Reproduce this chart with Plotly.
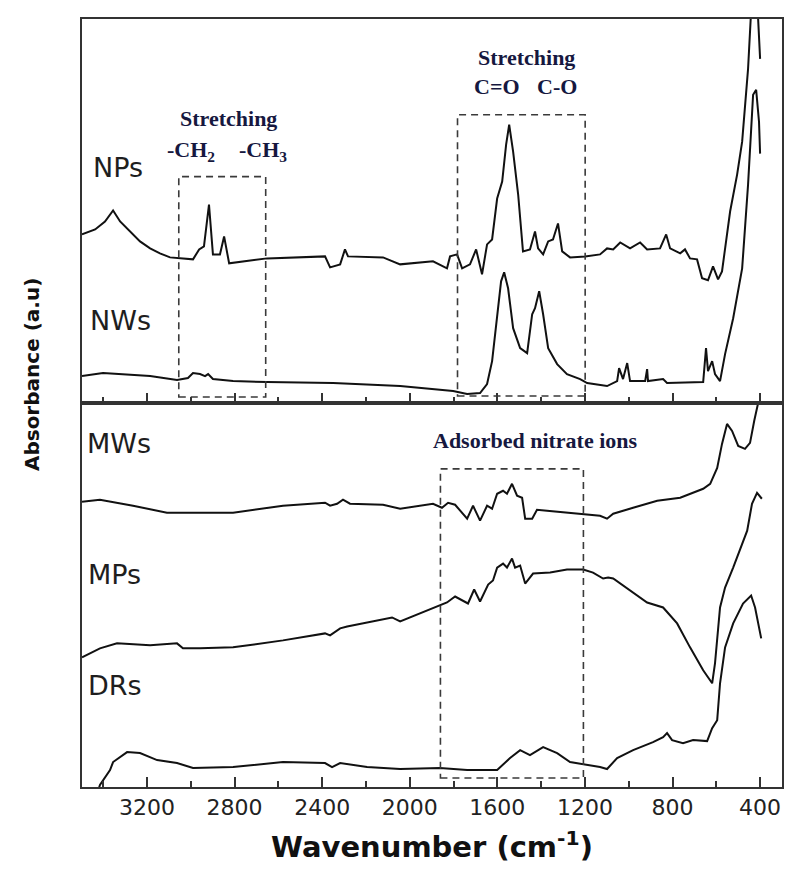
import plotly.graph_objects as go

# ---------------------------------------------------------------------------
# FTIR spectra: wavenumber (cm-1) / absorbance (a.u.,
# already offset for stacking). Top panel: NPs, NWs. Bottom: MWs, MPs, DRs.
# ---------------------------------------------------------------------------
NPS_WN = [3497, 3437, 3392, 3355, 3323, 3264, 3232, 3186, 3141, 3095, 2990, 2962,
          2940, 2917, 2899, 2867, 2848, 2825, 2652, 2387, 2364, 2318, 2296, 2282,
          2122, 2044, 1894, 1830, 1816, 1784, 1761, 1725, 1697, 1670, 1647, 1624,
          1601, 1578, 1560, 1546, 1528, 1505, 1483, 1451, 1428, 1414, 1391, 1368,
          1346, 1323, 1304, 1268, 1199, 1131, 1099, 1071, 1039, 994, 948, 916,
          857, 829, 811, 765, 743, 720, 688, 665, 638, 615, 592, 574, 537, 505,
          482, 455, 441, 425, 409, 400]
NPS_ABS = [169, 174, 182, 193, 182, 169, 162, 155, 150, 146, 144, 154,
           157, 199, 149, 149, 167, 140, 145, 147, 136, 139, 154, 147,
           146, 139, 142, 135, 147, 149, 135, 139, 154, 129, 159, 164,
           205, 222, 259, 279, 252, 209, 152, 154, 172, 155, 149, 162,
           164, 180, 152, 146, 147, 149, 155, 154, 161, 155, 161, 154,
           155, 169, 155, 150, 154, 145, 144, 125, 123, 137, 124, 132, 192, 229,
           262, 335, 385, 460, 385, 345]

NWS_WN = [3497, 3401, 3186, 3063, 3013, 2990, 2958, 2935, 2921, 2899, 2807, 2652,
          2350, 2044, 1802, 1738, 1679, 1647, 1624, 1601, 1583, 1569, 1551, 1528,
          1496, 1464, 1441, 1428, 1409, 1391, 1368, 1327, 1282, 1222, 1190, 1099,
          1053, 1044, 1026, 1007, 994, 925, 916, 912, 843, 825, 660, 647, 638,
          619, 606, 583, 560, 523, 482, 455, 432, 418, 405, 400]
NWS_ABS = [27, 30, 27, 23, 25, 30, 29, 27, 29, 24, 22, 21,
           20, 17, 12, 9, 10, 19, 42, 85, 122, 131, 115, 75,
           55, 50, 89, 95, 112, 89, 55, 39, 29, 24, 20, 17,
           22, 35, 24, 40, 22, 22, 34, 22, 24, 20, 21, 55, 32,
           42, 29, 22, 49, 85, 135, 219, 309, 314, 282, 250]

MWS_WN = [3497, 3415, 3264, 3109, 2958, 2807, 2579, 2387, 2364, 2332, 2305, 2273,
          2122, 2044, 1894, 1853, 1825, 1793, 1738, 1711, 1679, 1647, 1624, 1601,
          1574, 1556, 1533, 1510, 1487, 1473, 1441, 1419, 1373, 1282, 1208, 1131,
          1099, 1071, 980, 870, 765, 660, 628, 596, 574, 551, 528, 500, 469, 446,
          427, 414, 400]
MWS_ABS = [286, 288, 282, 275, 275, 275, 282, 285, 282, 284, 288, 284,
           283, 279, 284, 280, 285, 283, 269, 282, 267, 282, 279, 294,
           297, 294, 304, 292, 290, 269, 269, 278, 277, 275, 274, 272,
           269, 274, 280, 287, 290, 299, 304, 320, 344, 364, 357, 342, 339, 345,
           367, 379, 394]

MPS_WN = [3497, 3415, 3337, 3186, 3063, 3036, 2958, 2807, 2579, 2387, 2364, 2318,
          2286, 2122, 2081, 2044, 1894, 1830, 1793, 1761, 1734, 1706, 1679, 1642,
          1620, 1601, 1574, 1556, 1533, 1519, 1496, 1473, 1437, 1359, 1282, 1208,
          1163, 1117, 1094, 1071, 980, 916, 843, 779, 720, 660, 619, 606, 583,
          560, 523, 459, 437, 414, 392]
MPS_ABS = [130, 139, 144, 142, 144, 139, 139, 140, 147, 154, 152, 159,
           161, 168, 170, 166, 179, 185, 191, 187, 184, 198, 186, 203,
           207, 220, 224, 220, 229, 220, 222, 204, 214, 215, 218, 218,
           215, 209, 210, 209, 195, 185, 180, 164, 140, 117, 104, 124, 180,
           200, 220, 257, 284, 295, 289]

DRS_WN = [3437, 3415, 3369, 3355, 3291, 3232, 3154, 3063, 2990, 2807, 2579, 2387,
          2355, 2318, 2195, 2044, 1862, 1738, 1601, 1542, 1496, 1451, 1391, 1327,
          1268, 1190, 1131, 1099, 1053, 980, 889, 843, 825, 802, 752, 706, 642,
          619, 596, 583, 560, 523, 478, 441, 423, 395]
DRS_ABS = [-13, 2, 17, 25, 35, 34, 27, 24, 19, 20, 25, 24,
           20, 24, 20, 18, 19, 17, 17, 29, 37, 32, 40, 34,
           25, 22, 20, 18, 29, 37, 45, 50, 54, 47, 44, 47, 46,
           59, 67, 104, 140, 164, 184, 192, 180, 149]

# marked band regions (cm-1)
CH_BAND = (3055, 2658)
CO_BAND = (1782, 1199)
NITRATE_BAND = (1860, 1207)

TICK_VALS = [3200, 2800, 2400, 2000, 1600, 1200, 800, 400]
MINOR_VALS = [3400, 3000, 2600, 2200, 1800, 1400, 1000, 600]

LINE = "#111111"
FRAME = "#333333"
NOTE = "#16183f"

# plot area in page pixels: x 82..782, y 17..787 (page body has an 8px margin)
def px(x):
    return (x - 82) / 700


def py(y):
    return (787 - y) / 770


fig = go.Figure()

for wn, ab, axes in [
    (NPS_WN, NPS_ABS, ("x2", "y2")),
    (NWS_WN, NWS_ABS, ("x2", "y2")),
    (MWS_WN, MWS_ABS, ("x", "y")),
    (MPS_WN, MPS_ABS, ("x", "y")),
    (DRS_WN, DRS_ABS, ("x", "y")),
]:
    fig.add_trace(go.Scatter(
        x=wn, y=ab, mode="lines", xaxis=axes[0], yaxis=axes[1],
        line=dict(color=LINE, width=2), showlegend=False, hoverinfo="skip",
    ))

xcommon = dict(
    range=[3497, 300], showgrid=False, zeroline=False,
    showline=True, linecolor=FRAME, linewidth=2, mirror=True,
    ticks="inside", ticklen=10, tickwidth=1.5, tickcolor=FRAME,
    tickmode="array", tickvals=TICK_VALS,
    minor=dict(ticks="inside", ticklen=6, tickwidth=1.5, tickcolor=FRAME,
               tickmode="array", tickvals=MINOR_VALS),
    tickfont=dict(family="DejaVu Sans", size=22, color="#222222"),
)
ycommon = dict(
    range=[0, 385], showgrid=False, zeroline=False, showticklabels=False,
    ticks="", showline=True, linecolor=FRAME, linewidth=2, mirror=True,
)

fig.update_layout(
    width=792, height=870,
    margin=dict(l=74, r=18, t=9, b=91),
    paper_bgcolor="white", plot_bgcolor="white",
    xaxis=dict(**xcommon, anchor="y", domain=[0, 1]),
    xaxis2=dict(**xcommon, anchor="y2", domain=[0, 1], matches="x",
                showticklabels=False),
    yaxis=dict(**ycommon, domain=[0, 0.5]),
    yaxis2=dict(**ycommon, domain=[0.5, 1]),
)

# dashed boxes round the bands
for (x0, x1), ytop, ybot in [
    (CH_BAND, 175, 396),
    (CO_BAND, 113, 395),
    (NITRATE_BAND, 468, 778),
]:
    fig.add_shape(type="rect", xref="x", yref="paper", x0=x0, x1=x1,
                  y0=py(ybot), y1=py(ytop),
                  line=dict(color="#3a3a3a", width=1.6, dash="7px,5px"))

# sample labels
label_font = dict(family="DejaVu Sans", size=27, color="#1e1e1e")
for name, x, y in [("NPs", 91, 166), ("NWs", 88, 319), ("MWs", 85, 443),
                   ("MPs", 86, 574), ("DRs", 86, 685)]:
    fig.add_annotation(text=name, x=px(x), y=py(y), xref="paper", yref="paper",
                       xanchor="left", yanchor="middle", showarrow=False,
                       font=label_font)

# band notes
note_font = dict(family="Liberation Serif", size=22, color=NOTE, weight="bold")
for txt, x, y in [
    ("Stretching", 228, 117),
    ("-CH<sub>2</sub>", 191, 149),
    ("-CH<sub>3</sub>", 263, 149),
    ("Stretching", 526, 56),
    ("C=O", 497, 85),
    ("C-O", 557, 85),
    ("Adsorbed nitrate ions", 535, 440),
]:
    fig.add_annotation(text=txt, x=px(x), y=py(y), xref="paper", yref="paper",
                       xanchor="center", yanchor="middle", showarrow=False,
                       font=note_font)

# axis titles
fig.add_annotation(text="Absorbance (a.u)", x=px(32), y=py(374),
                   xref="paper", yref="paper", textangle=-90, showarrow=False,
                   xanchor="center", yanchor="middle",
                   font=dict(family="DejaVu Sans", size=20, color="#111111",
                             weight="bold"))
fig.add_annotation(text="Wavenumber (cm<sup>-1</sup>)", x=px(432), y=py(845),
                   xref="paper", yref="paper", showarrow=False,
                   xanchor="center", yanchor="middle",
                   font=dict(family="DejaVu Sans", size=29, color="#111111",
                             weight="bold"))

fig.write_html("out.html")
